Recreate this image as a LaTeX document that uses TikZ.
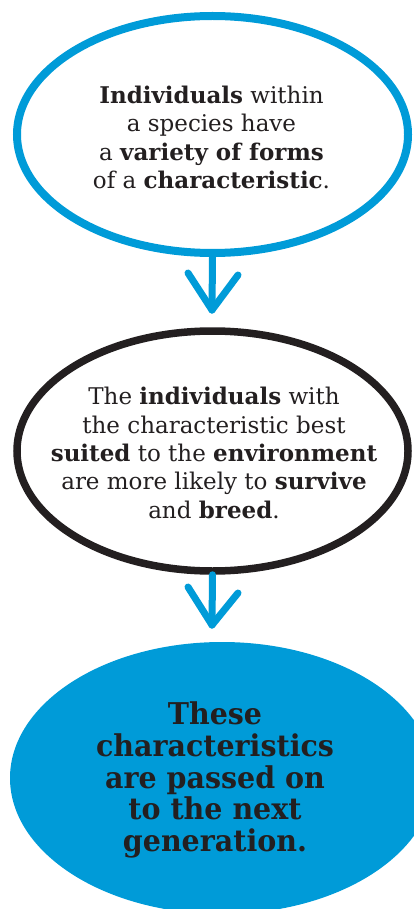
\documentclass[tikz,border=0pt]{standalone}
\usepackage{fontspec}
\setmainfont{DejaVu Serif}
\newfontfamily\heavyfont[FakeStretch=0.95]{DejaVu Serif}
\usetikzlibrary{shapes.geometric}
\definecolor{skyblue}{RGB}{0,155,216}
\definecolor{ink}{RGB}{35,31,32}
\tikzset{
  bubble/.style={ellipse, draw, line width=8pt, fill=white, inner sep=0pt},
  bubbletext/.style={align=center, text=ink, inner sep=0pt, font=\fontsize{23}{28.3}\selectfont},
  bigtext/.style={align=center, text=ink, inner sep=0pt, font=\heavyfont\bfseries\fontsize{30}{31.7}\selectfont},
  flow/.style={draw=skyblue, line width=7pt, line cap=round, line join=round},
}
\begin{document}
\begin{tikzpicture}[x=1pt,y=1pt]
\useasboundingbox (0,0) rectangle (414,-909);
\clip (0,0) rectangle (414,-909);
\node[bubble, draw=skyblue, minimum width=391pt, minimum height=237pt] (top) at (212.5,-134.5) {};
\node[bubbletext] (toptext) at (211.5,-137.5)
  {\textbf{Individuals} within\\a species have\\a \textbf{variety of forms}\\of a \textbf{characteristic}.};
\node[bubble, draw=ink, line width=7.5pt, minimum width=391pt, minimum height=240pt] (mid) at (212.5,-451) {};
\node[bubbletext] (midtext) at (214,-453)
  {The \textbf{individuals} with\\the characteristic best\\\textbf{suited} to the \textbf{environment}\\are more likely to \textbf{survive}\\and \textbf{breed}.};
\node[ellipse, fill=skyblue, inner sep=0pt, minimum width=424pt, minimum height=272pt] (bot) at (222,-778) {};
\node[bigtext] (bottext) at (215,-780)
  {These\\characteristics\\are passed on\\to the next\\generation.};
\coordinate (t1) at (212,-310);
\coordinate (t2) at (212,-625);
\draw[flow] (top.south) -- (t1);
\draw[flow] (t1) -- ++(-24,37);
\draw[flow] (t1) -- ++(26,35);
\draw[flow] (mid.south) -- (t2);
\draw[flow] (t2) -- ++(-24,38);
\draw[flow] (t2) -- ++(26,32);
\end{tikzpicture}
\end{document}
